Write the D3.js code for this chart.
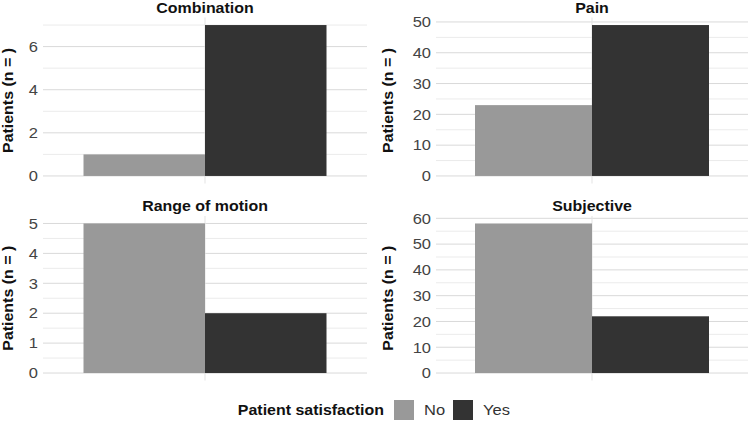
<!DOCTYPE html>
<html>
<head>
    <meta charset="utf-8">
    <title>Patient satisfaction</title>
    <script src="https://cdn.jsdelivr.net/npm/d3@7"></script>
    <style>
        body { margin: 0; background: #fff; }
        text { font-family: "Liberation Sans", Arial, sans-serif; }
    </style>
</head>
<body>
<svg width="749" height="422"></svg>
<script>
    // data
    const panels = ["Combination", "Pain", "Range of motion", "Subjective"];
    const groups = ["No", "Yes"];
    const noValues = [1, 23, 5, 58];
    const yesValues = [7, 49, 2, 22];
    const tickSteps = [2, 10, 1, 10];

    const colors = { No: "#999999", Yes: "#333333" };
    const sx = 1.1; // the original's text is a bit wide

    const svg = d3.select("svg");

    function at(x, y, rot) {
        return "translate(" + x + "," + y + ")" + (rot ? " rotate(" + rot + ")" : "") + " scale(" + sx + ",1)";
    }

    // panel boxes (plot area of each facet)
    const boxes = [
        { x0: 43, x1: 367, y0: 17.5, y1: 183.5, title: 13 },
        { x0: 436, x1: 748, y0: 17.5, y1: 183.5, title: 393 },
        { x0: 43, x1: 367, y0: 216, y1: 380.5, title: 13 },
        { x0: 436, x1: 748, y0: 216, y1: 380.5, title: 393 }
    ];

    panels.forEach(function (name, i) {
        const b = boxes[i];
        const vals = [noValues[i], yesValues[i]];
        const max = d3.max(vals);
        const step = tickSteps[i];
        const top = max * 1.05;

        const y = d3.scaleLinear().domain([-max * 0.05, top]).range([b.y1, b.y0]);
        // one category on a discrete axis: limits 0.4 .. 1.6, bars width 0.9
        const x = d3.scaleLinear().domain([0.4, 1.6]).range([b.x0, b.x1]);
        const xg = d3.scaleBand().domain(groups).range([x(0.55), x(1.45)]);

        const g = svg.append("g");

        const major = d3.range(0, top + 1e-9, step);
        const minor = d3.range(step / 2, top, step);

        g.selectAll(".minor").data(minor).enter().append("line")
            .attr("x1", b.x0).attr("x2", b.x1)
            .attr("y1", d => y(d)).attr("y2", d => y(d))
            .attr("stroke", "#ebebeb").attr("stroke-width", 1);

        g.selectAll(".major").data(major).enter().append("line")
            .attr("x1", b.x0).attr("x2", b.x1)
            .attr("y1", d => y(d)).attr("y2", d => y(d))
            .attr("stroke", "#d9d9d9").attr("stroke-width", 1);

        // vertical grid at the category
        g.append("line")
            .attr("x1", x(1)).attr("x2", x(1))
            .attr("y1", b.y0).attr("y2", b.y1)
            .attr("stroke", "#e3e3e3").attr("stroke-width", 1);

        g.selectAll("rect").data(groups).enter().append("rect")
            .attr("x", d => xg(d))
            .attr("width", xg.bandwidth())
            .attr("y", (d, j) => y(vals[j]))
            .attr("height", (d, j) => y(0) - y(vals[j]))
            .attr("fill", d => colors[d]);

        // y tick labels
        g.selectAll(".tick").data(major).enter().append("text")
            .attr("transform", d => at(b.x0 - 5, y(d)))
            .attr("dy", "0.35em")
            .attr("text-anchor", "end")
            .attr("font-size", 15)
            .attr("fill", "#444")
            .text(d => d);

        // facet title
        g.append("text")
            .attr("transform", at(x(1), b.y0 - 5))
            .attr("text-anchor", "middle")
            .attr("font-size", 14.5)
            .attr("font-weight", "bold")
            .attr("fill", "#111")
            .text(name);

        // y axis title
        g.append("text")
            .attr("transform", at(b.title, (b.y0 + b.y1) / 2, -90))
            .attr("text-anchor", "middle")
            .attr("font-size", 14.5)
            .attr("font-weight", "bold")
            .attr("fill", "#111")
            .text("Patients (n = )");
    });

    // legend
    const leg = svg.append("g").attr("transform", "translate(0,410)");
    leg.append("text")
        .attr("transform", at(384, 0))
        .attr("dy", "0.35em")
        .attr("text-anchor", "end")
        .attr("font-size", 14.5).attr("font-weight", "bold").attr("fill", "#111")
        .text("Patient satisfaction");

    const legX = [394, 453];
    groups.forEach(function (gname, j) {
        leg.append("rect")
            .attr("x", legX[j]).attr("y", -10)
            .attr("width", 20).attr("height", 20)
            .attr("fill", colors[gname]);
        leg.append("text")
            .attr("transform", at(legX[j] + 30, 0))
            .attr("dy", "0.35em")
            .attr("font-size", 15).attr("fill", "#333")
            .text(gname);
    });
</script>
</body>
</html>
